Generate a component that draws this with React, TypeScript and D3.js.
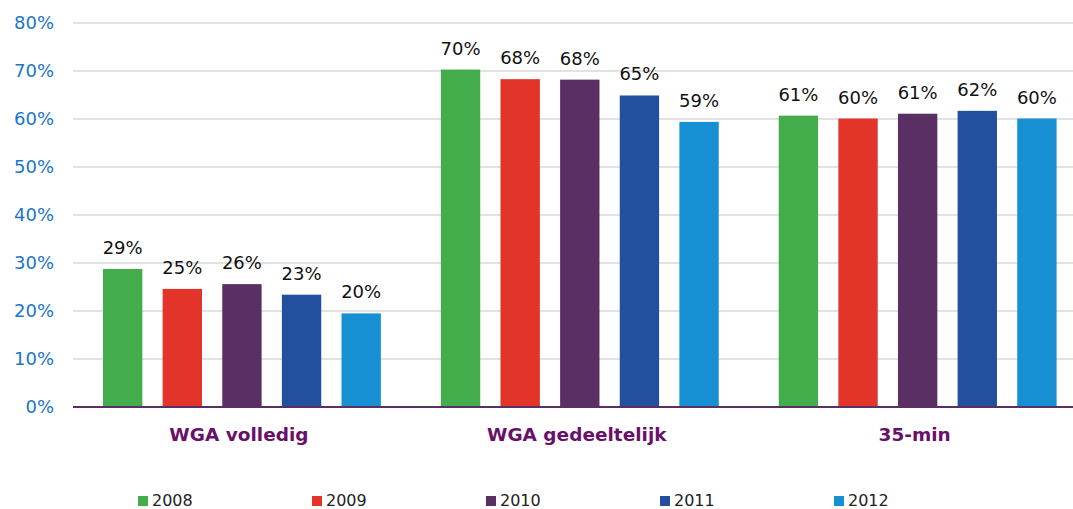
import React from 'react';
import * as d3 from 'd3';

const categories = ['WGA volledig', 'WGA gedeeltelijk', '35-min'];
const years = ['2008', '2009', '2010', '2011', '2012'];
const colors = ['#43ad4b', '#e23428', '#5a3064', '#224f9e', '#1690d3'];
const values = [
  [28.75, 24.6, 25.6, 23.4, 19.5],
  [70.3, 68.3, 68.2, 64.9, 59.4],
  [60.7, 60.1, 61.1, 61.7, 60.1]
];
const labels = [
  ['29%', '25%', '26%', '23%', '20%'],
  ['70%', '68%', '68%', '65%', '59%'],
  ['61%', '60%', '61%', '62%', '60%']
];
const yTicks = [0, 10, 20, 30, 40, 50, 60, 70, 80];

const W = 1073, H = 509;
const font = 'DejaVu Sans, Verdana, sans-serif';

export default function App() {
  const margin = { top: 23, left: 73, bottom: 102 };
  const x0 = d3.scaleBand().domain(categories).range([margin.left, 1086.6]).padding(0);
  const x1 = d3.scaleBand().domain(years).range([30, x0.bandwidth() - 30]).paddingInner(0.34).paddingOuter(0);
  const y = d3.scaleLinear().domain([0, 80]).range([H - margin.bottom, margin.top]);
  const [xa, xb] = x0.range();

  const legendX = d3.scalePoint().domain(years).range([138, 834]);

  return (
    <svg width={W} height={H} style={{ position: 'absolute', left: 0, top: 0, background: '#fff' }} fontFamily={font}>
      {yTicks.map(t => (
        <g key={t}>
          {t > 0 && <line x1={xa} x2={xb} y1={y(t)} y2={y(t)} stroke="#d9d9d9" strokeWidth={1.3} />}
          <text x={54} y={y(t)} dy="0.35em" textAnchor="end" fontSize={18} fill="#1a74d0">{t}%</text>
        </g>
      ))}
      {categories.map((c, ci) => (
        <g key={c} transform={`translate(${x0(c)},0)`}>
          {years.map((yr, i) => (
            <g key={yr}>
              <rect x={x1(yr)} y={y(values[ci][i])} width={x1.bandwidth()} height={y(0) - y(values[ci][i])} fill={colors[i]} />
              <text x={(x1(yr) as number) + x1.bandwidth() / 2} y={y(values[ci][i]) - 15} textAnchor="middle" fontSize={18} fill="#111">{labels[ci][i]}</text>
            </g>
          ))}
          <text x={x0.bandwidth() / 2 - 3} y={441} textAnchor="middle" fontSize={18.5} fontWeight="bold" fill="#6a0f6a">{c}</text>
        </g>
      ))}
      <line x1={xa} x2={xb} y1={y(0)} y2={y(0)} stroke="#5a3064" strokeWidth={2.2} />
      {years.map((yr, i) => (
        <g key={yr} transform={`translate(${legendX(yr)},0)`}>
          <rect x={0} y={496} width={10} height={10} fill={colors[i]} />
          <text x={14} y={506} fontSize={16} fill="#222">{yr}</text>
        </g>
      ))}
    </svg>
  );
}
